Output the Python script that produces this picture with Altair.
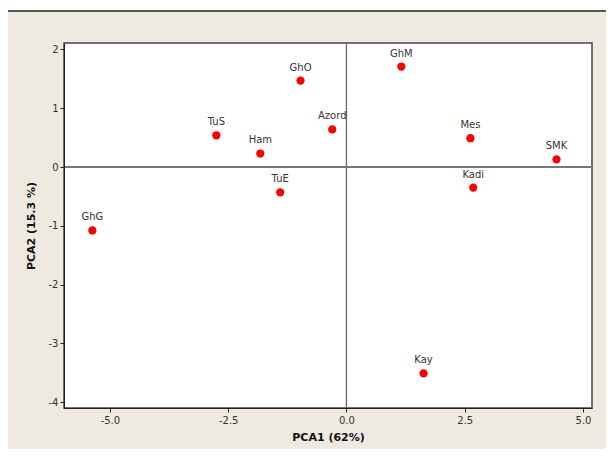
import altair as alt
import pandas as pd

names = ["GhO", "GhM", "TuS", "Ham", "Azord", "Mes", "SMK", "Kadi", "TuE", "GhG", "Kay"]
pca1 = [-0.97, 1.16, -2.75, -1.82, -0.30, 2.62, 4.44, 2.68, -1.40, -5.37, 1.63]
pca2 = [1.47, 1.71, 0.54, 0.23, 0.64, 0.49, 0.13, -0.35, -0.43, -1.08, -3.51]
x_ticks = [-5.0, -2.5, 0.0, 2.5, 5.0]
y_ticks = [-4, -3, -2, -1, 0, 1, 2]

df = pd.DataFrame({"name": names, "x": pca1, "y": pca2})
zero = pd.DataFrame({"v": [0]})

xs = alt.Scale(domain=[-5.97, 5.19], nice=False, zero=False)
ys = alt.Scale(domain=[-4.1, 2.11], nice=False, zero=False)

panel = alt.Chart(zero).mark_rect(
    fill="#EEEAE0", stroke="#222222", strokeWidth=1.5, clip=False
).encode(
    x=alt.value(-57), y=alt.value(-32), x2=alt.value(620), y2=alt.value(460)
)
plotbg = alt.Chart(zero).mark_rect(fill="white", stroke="#444444", strokeWidth=1.5).encode(
    x=alt.value(0), y=alt.value(0), x2=alt.value(528), y2=alt.value(365)
)

vline = alt.Chart(zero).mark_rule(color="#666666", strokeWidth=1.3).encode(
    x=alt.X("v:Q", scale=xs)
)
hline = alt.Chart(zero).mark_rule(color="#777777", strokeWidth=1.8).encode(
    y=alt.Y("v:Q", scale=ys)
)

points = alt.Chart(df).mark_circle(color="#FF0000", opacity=1, size=68).encode(
    x=alt.X("x:Q", scale=xs, title="PCA1 (62%)",
            axis=alt.Axis(values=x_ticks, grid=False, domain=True, zindex=2,
                          labelExpr="replace(format(datum.value, '.1f'), '\u2212', '-')",
                          domainColor="#222222", tickColor="#222222", tickSize=4,
                          labelPadding=3, titlePadding=6,
                          labelFont="DejaVu Sans", labelFontSize=10, labelColor="#333333",
                          titleFont="DejaVu Sans", titleFontSize=11, titleFontWeight="bold",
                          titleColor="#111111")),
    y=alt.Y("y:Q", scale=ys, title="PCA2 (15.3 %)",
            axis=alt.Axis(values=y_ticks, grid=False, domain=True, zindex=2,
                          labelExpr="replace(format(datum.value, 'd'), '\u2212', '-')",
                          domainColor="#222222", tickColor="#222222", tickSize=4,
                          labelPadding=2, titlePadding=12,
                          labelFont="DejaVu Sans", labelFontSize=10, labelColor="#333333",
                          titleFont="DejaVu Sans", titleFontSize=11, titleFontWeight="bold",
                          titleColor="#111111")),
)

labels = alt.Chart(df).mark_text(
    dy=-13, font="DejaVu Sans", fontSize=10, color="#333333", align="center"
).encode(
    x=alt.X("x:Q", scale=xs), y=alt.Y("y:Q", scale=ys), text="name:N"
)

chart = alt.layer(panel, plotbg, vline, hline, points, labels).properties(
    width=528, height=365,
    autosize=alt.AutoSizeParams(type="none"),
    padding={"left": 56, "top": 35, "right": 14, "bottom": 41},
    background="white",
).configure_view(stroke=None)

chart.save("out.html", embed_options={"renderer": "svg", "actions": False})
